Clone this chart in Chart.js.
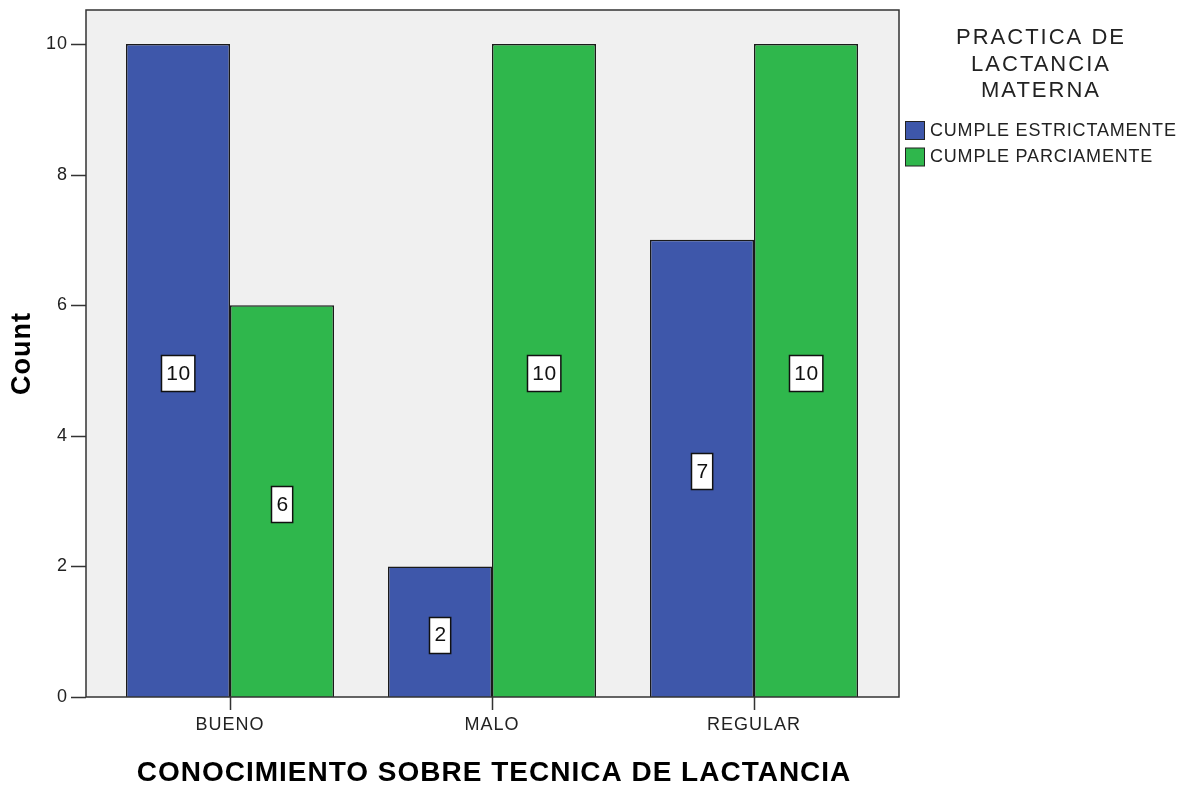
<!DOCTYPE html>
<html>
<head>
<meta charset="utf-8">
<script src="https://cdn.jsdelivr.net/npm/chart.js@4/dist/chart.umd.min.js"></script>
<style>
  html, body { margin: 0; padding: 0; background: #fff; }
  #wrap { width: 1197px; height: 787px; position: relative; }
</style>
</head>
<body>
<div id="wrap"><canvas id="barChart"></canvas></div>
<script>
const categories = ["BUENO", "MALO", "REGULAR"];
const estrictamente = [10, 2, 7];
const parciamente = [6, 10, 10];
const seriesNames = ["CUMPLE ESTRICTAMENTE", "CUMPLE PARCIAMENTE"];
const yTicks = [0, 2, 4, 6, 8, 10];
const legendTitle = ["PRACTICA DE", "LACTANCIA", "MATERNA"];
const xTitle = "CONOCIMIENTO SOBRE TECNICA DE LACTANCIA";
const yTitle = "Count";

const FONT = "'Liberation Sans', Arial, sans-serif";

// gray frame, axis lines, tick marks, value boxes and legend (SPSS look)
const framePlugin = {
    id: "frame",
    beforeDraw(chart) {
        // SPSS text is a bit wider than Arial, widen the axis texts
        chart.ctx.letterSpacing = "1px";
    },
    beforeDatasetsDraw(chart) {
        const { ctx, chartArea: a } = chart;
        ctx.letterSpacing = "0px";
        ctx.save();
        ctx.fillStyle = "#f0f0f0";
        ctx.fillRect(a.left - 13, a.top, a.right - a.left + 27, a.bottom - a.top);
        ctx.restore();
    },
    afterDatasetsDraw(chart) {
        const { ctx, chartArea: a, scales } = chart;
        const l = a.left - 13, r = a.right + 14;
        ctx.save();
        ctx.strokeStyle = "#333";
        ctx.lineWidth = 1.5;
        ctx.strokeRect(l, a.top, r - l, a.bottom - a.top);
        ctx.beginPath();
        yTicks.forEach(v => {
            const y = Math.round(scales.y.getPixelForValue(v)) + 0.5;
            ctx.moveTo(l - 15, y);
            ctx.lineTo(l, y);
        });
        categories.forEach((c, i) => {
            const x = Math.round(scales.x.getPixelForValue(i)) + 0.5;
            ctx.moveTo(x, a.bottom);
            ctx.lineTo(x, a.bottom + 13);
        });
        ctx.stroke();

        // value labels in the middle of each bar
        ctx.font = "21px " + FONT;
        ctx.letterSpacing = "0.5px";
        ctx.textAlign = "center";
        ctx.textBaseline = "middle";
        chart.data.datasets.forEach((ds, di) => {
            chart.getDatasetMeta(di).data.forEach((bar, i) => {
                const v = ds.data[i];
                const txt = String(v);
                const y = scales.y.getPixelForValue(v / 2) + 3;
                const w = ctx.measureText(txt).width + 9;
                const h = 36;
                const bx = Math.round(bar.x - w / 2) + 0.5;
                const by = Math.round(y - h / 2) + 0.5;
                ctx.fillStyle = "#fff";
                ctx.fillRect(bx, by, w, h);
                ctx.strokeStyle = "#111";
                ctx.lineWidth = 1.5;
                ctx.strokeRect(bx, by, w, h);
                ctx.fillStyle = "#111";
                ctx.fillText(txt, bar.x + 0.5, y + 1);
            });
        });
        ctx.letterSpacing = "0px";
        ctx.restore();
    },
    afterDraw(chart) {
        const { ctx } = chart;
        ctx.save();
        // x axis title
        ctx.font = "bold 28px " + FONT;
        ctx.letterSpacing = "1px";
        ctx.fillStyle = "#000";
        ctx.textAlign = "center";
        ctx.textBaseline = "middle";
        ctx.fillText(xTitle, 494, 773);

        // legend
        ctx.font = "22px " + FONT;
        ctx.letterSpacing = "2px";
        ctx.fillStyle = "#222";
        legendTitle.forEach((t, i) => ctx.fillText(t, 1041, 38 + i * 26.5));
        ctx.font = "18px " + FONT;
        ctx.letterSpacing = "0.8px";
        ctx.textAlign = "left";
        chart.data.datasets.forEach((ds, i) => {
            const y = 121 + i * 26.5;
            ctx.fillStyle = ds.backgroundColor;
            ctx.fillRect(905.5, y + 0.5, 19, 18);
            ctx.strokeStyle = "#222";
            ctx.lineWidth = 1;
            ctx.strokeRect(905.5, y + 0.5, 19, 18);
            ctx.fillStyle = "#222";
            ctx.fillText(ds.label, 930, y + 10);
        });
        ctx.letterSpacing = "0px";
        ctx.restore();
    }
};

const ctx = document.getElementById("barChart").getContext("2d");

let chart = new Chart(ctx, {
    type: "bar",
    data: {
        labels: categories,
        datasets: [{
            label: seriesNames[0],
            data: estrictamente,
            backgroundColor: "#3e57aa",
            borderColor: "#1a1a1a",
            borderWidth: 1.5
        }, {
            label: seriesNames[1],
            data: parciamente,
            backgroundColor: "#2fb74c",
            borderColor: "#1a1a1a",
            borderWidth: 1.5
        }]
    },
    options: {
        responsive: true,
        maintainAspectRatio: false,
        animation: false,
        layout: { padding: { top: 10, right: 312, left: 0, bottom: 0 } },
        categoryPercentage: 0.794,
        barPercentage: 1,
        plugins: {
            legend: { display: false },
            tooltip: { enabled: false }
        },
        scales: {
            x: {
                grid: { display: false, drawTicks: false },
                border: { display: false },
                ticks: {
                    color: "#222",
                    font: { family: FONT, size: 18 },
                    padding: 17,
                    maxRotation: 0
                },
                afterFit(scale) { scale.height = 90; }
            },
            y: {
                min: 0,
                max: 10.52,
                grid: { display: false, drawTicks: false },
                border: { display: false },
                ticks: {
                    stepSize: 2,
                    color: "#222",
                    font: { family: FONT, size: 18 },
                    padding: 31
                },
                afterBuildTicks(scale) {
                    scale.ticks = yTicks.map(v => ({ value: v }));
                },
                title: {
                    display: true,
                    text: yTitle,
                    color: "#000",
                    font: { family: FONT, size: 27, weight: "bold" },
                    padding: { top: 6, bottom: 0 }
                },
                afterFit(scale) {
                    scale.width = 99;
                    scale.paddingTop = 0;
                    scale.paddingBottom = 0;
                }
            }
        }
    },
    plugins: [framePlugin]
});
</script>
</body>
</html>
